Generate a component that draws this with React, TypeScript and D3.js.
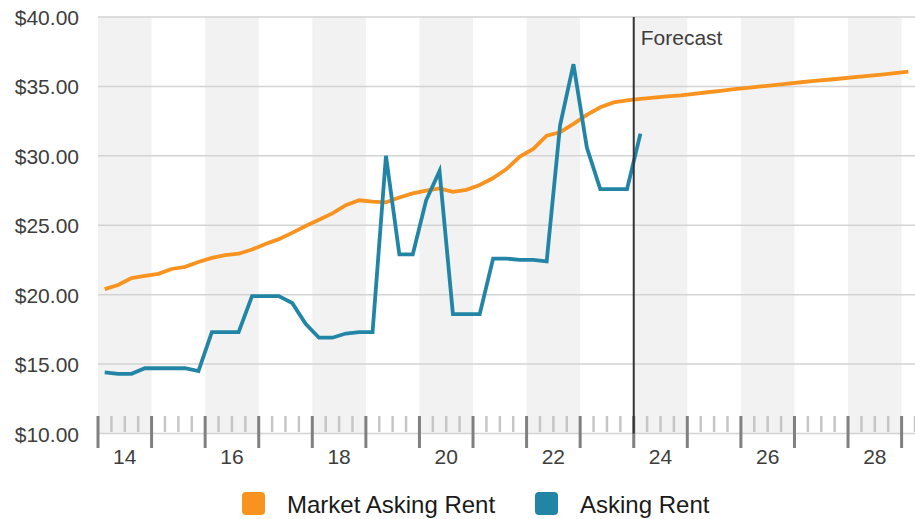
import * as d3 from "d3";

// quarters 2014 Q1 .. 2029 Q1
const quarters = d3.range(61).map((i) => `${2014 + Math.floor(i / 4)} Q${(i % 4) + 1}`);

const marketAskingRent = [
  20.4, 20.7, 21.2, 21.35, 21.5, 21.85, 22.0, 22.35, 22.65, 22.85, 22.95, 23.25,
  23.65, 24.0, 24.45, 24.95, 25.4, 25.85, 26.45, 26.8, 26.7, 26.65, 27.0, 27.3,
  27.5, 27.65, 27.4, 27.55, 27.9, 28.4, 29.05, 29.95, 30.5, 31.45, 31.7, 32.3,
  32.95, 33.5, 33.85, 34.0, 34.1, 34.2, 34.28, 34.35, 34.47, 34.58, 34.68, 34.8,
  34.9, 35.0, 35.1, 35.2, 35.3, 35.4, 35.48, 35.57, 35.67, 35.76, 35.85, 35.95,
  36.06,
];

const askingRent = [
  14.4, 14.3, 14.3, 14.7, 14.7, 14.7, 14.7, 14.5, 17.3, 17.3, 17.3, 19.9,
  19.9, 19.9, 19.4, 17.9, 16.9, 16.9, 17.2, 17.3, 17.3, 30.0, 22.9, 22.9,
  26.8, 28.9, 18.6, 18.6, 18.6, 22.6, 22.6, 22.5, 22.5, 22.4, 32.2, 36.6,
  30.6, 27.6, 27.6, 27.6, 31.6,
];

const yTicks = [10, 15, 20, 25, 30, 35, 40];
const xTickYears = [2014, 2016, 2018, 2020, 2022, 2024, 2026, 2028];
const forecastStart = "2024 Q1";

const W = 915;
const H = 519;
const FONT = "'Liberation Sans', Arial, Helvetica, sans-serif";
const ORANGE = "#f7931e";
const BLUE = "#2385a5";

const qTime = (q: string) => {
  const [y, qq] = q.split(" Q");
  return +y + (+qq - 1) / 4;
};

export default function App() {
  const x = d3.scaleLinear().domain([2014, 2029.25]).range([98, 915]);
  const y = d3.scaleLinear().domain([10, 40]).range([433.5, 17]);
  const top = y(40);
  const bottom = y(10);

  const line = d3
    .line<number>()
    .x((_, i) => x(qTime(quarters[i]) + 0.125))
    .y((d) => y(d));

  const years = d3.range(2014, 2030);
  const quarterTicks = d3.range(2014, 2029.26, 0.25).filter((t) => Math.abs(t - Math.round(t)) > 0.01);
  const fx = x(qTime(forecastStart));

  return (
    <svg
      width={W}
      height={H}
      style={{ position: "fixed", left: 0, top: 0, background: "#fff" }}
      fontFamily={FONT}
    >
      {/* alternating year bands */}
      {years
        .filter((yr) => yr % 2 === 0 && yr < 2029)
        .map((yr) => (
          <rect key={yr} x={x(yr)} y={top} width={x(yr + 1) - x(yr)} height={bottom - top} fill="#f2f2f2" />
        ))}

      {/* grid */}
      {yTicks.map((t) => (
        <line key={t} x1={x(2014)} x2={W} y1={y(t)} y2={y(t)} stroke="#d3d3d3" strokeWidth={1.5} />
      ))}
      {yTicks.map((t) => (
        <text key={t} x={79} y={y(t) + 8} textAnchor="end" fontSize={21} fill="#3d3d3d">
          {d3.format("$.2f")(t)}
        </text>
      ))}

      {/* x axis ticks */}
      {quarterTicks.map((t) => (
        <line key={t} x1={x(t)} x2={x(t)} y1={416} y2={432} stroke="#c6c6c6" strokeWidth={2.5} />
      ))}
      {years.map((yr) => (
        <line key={yr} x1={x(yr)} x2={x(yr)} y1={416} y2={448} stroke="#808080" strokeWidth={3} />
      ))}
      {xTickYears.map((yr) => (
        <text key={yr} x={x(yr + 0.5)} y={464} textAnchor="middle" fontSize={21} fill="#3d3d3d">
          {String(yr).slice(2)}
        </text>
      ))}

      {/* series */}
      <path d={line(marketAskingRent) || ""} fill="none" stroke={ORANGE} strokeWidth={3.8} />
      <path d={line(askingRent) || ""} fill="none" stroke={BLUE} strokeWidth={3.8} />

      {/* forecast marker */}
      <line x1={fx} x2={fx} y1={top} y2={bottom} stroke="#333" strokeWidth={2} />
      <text x={fx + 7} y={45} fontSize={21} fill="#3d3d3d">
        Forecast
      </text>

      {/* legend */}
      <rect x={242} y={492} width={23} height={23} rx={4} fill={ORANGE} />
      <text x={287} y={513} fontSize={24} fill="#1a1a1a">
        Market Asking Rent
      </text>
      <rect x={535} y={492} width={23} height={23} rx={4} fill={BLUE} />
      <text x={580} y={513} fontSize={24} fill="#1a1a1a">
        Asking Rent
      </text>
    </svg>
  );
}
